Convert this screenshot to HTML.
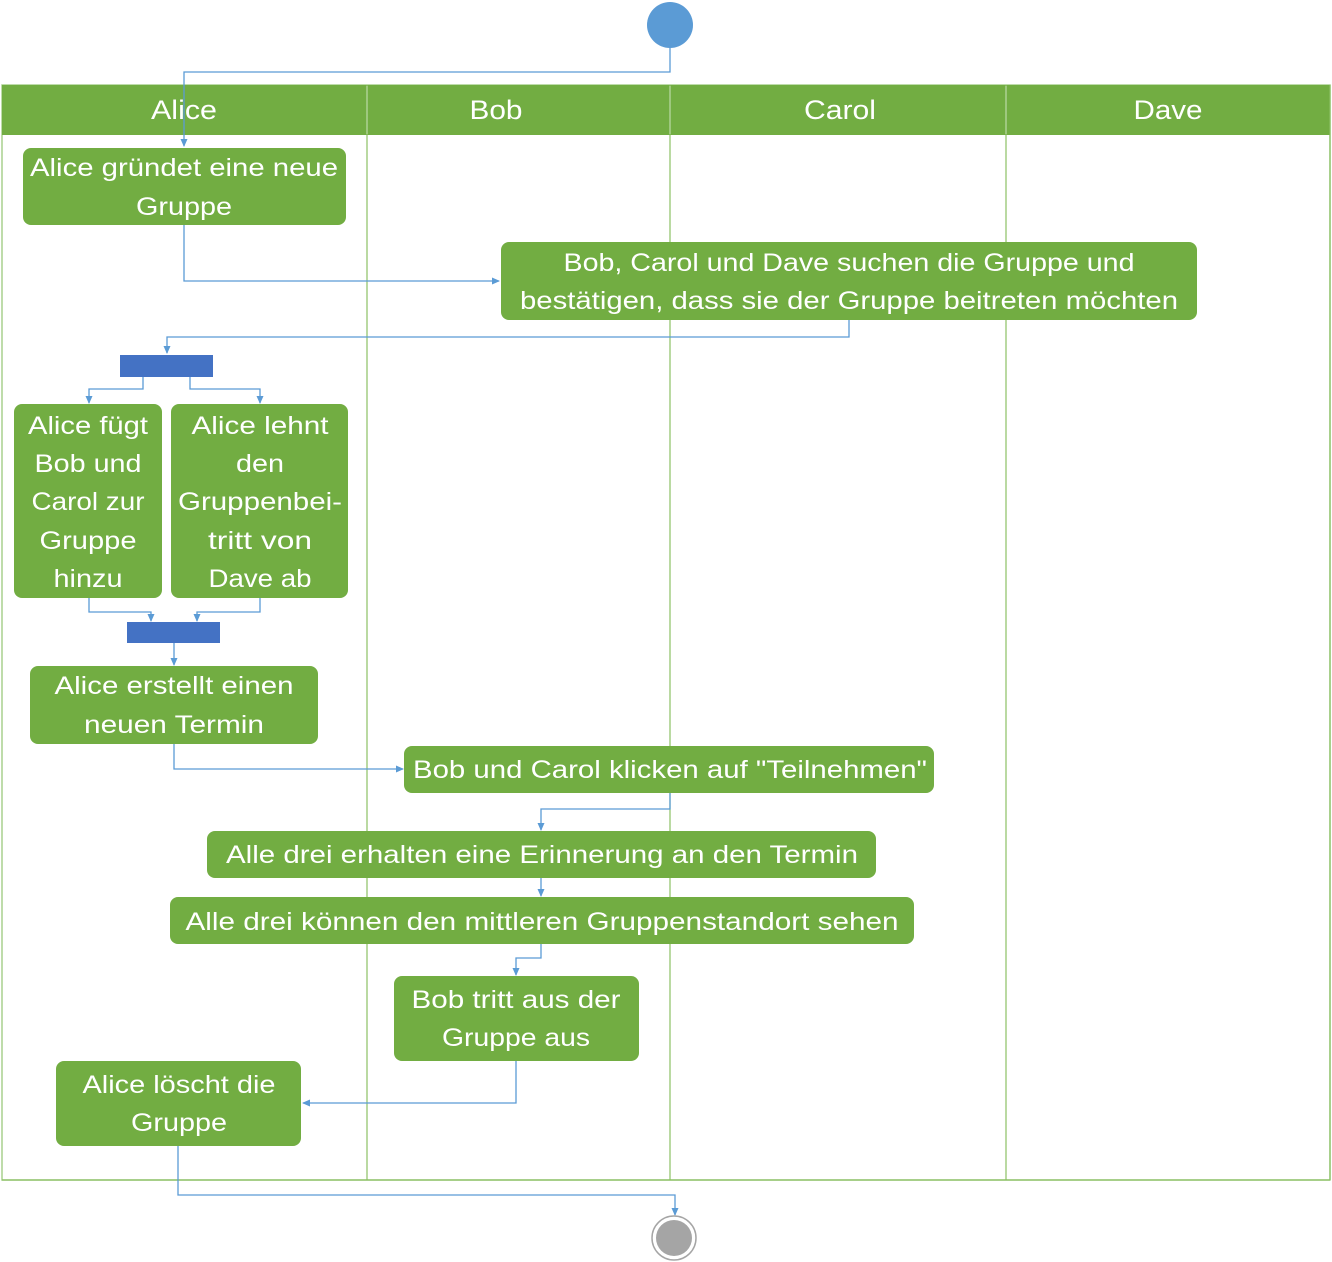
<!DOCTYPE html>
<html><head><meta charset="utf-8"><style>
html,body{margin:0;padding:0;background:#fff;}
svg{display:block;}
text{font-family:"Liberation Sans",sans-serif;fill:#fff;font-size:25px;}
.h{font-size:27px;}
.c{stroke:#5B9BD5;stroke-width:1.3;fill:none;}
.b{fill:#72AD42;}
</style></head><body>
<svg width="1332" height="1262" viewBox="0 0 1332 1262" xmlns="http://www.w3.org/2000/svg">
<defs><marker id="a" markerWidth="8" markerHeight="8" refX="7" refY="4" orient="auto" markerUnits="userSpaceOnUse"><path d="M0,0.5 L8,4 L0,7.5z" fill="#5B9BD5"/></marker></defs>
<rect x="2" y="85" width="1328" height="1095" fill="none" stroke="#A9D18E" stroke-width="1.5"/>
<rect x="2" y="85" width="1328" height="50" fill="#72AD42"/>
<g stroke="#8CC065" stroke-width="1.2">
<line x1="367" y1="85" x2="367" y2="1180"/><line x1="670" y1="85" x2="670" y2="1180"/><line x1="1006" y1="85" x2="1006" y2="1180"/>
<line x1="1330" y1="85" x2="1330" y2="1180"/><line x1="2" y1="1180" x2="1330" y2="1180"/>
</g>
<g stroke="#C5E0B4" stroke-width="1"><line x1="367" y1="86" x2="367" y2="134"/><line x1="670" y1="86" x2="670" y2="134"/><line x1="1006" y1="86" x2="1006" y2="134"/></g>
<text class="h" x="184" y="119" text-anchor="middle" textLength="66" lengthAdjust="spacingAndGlyphs">Alice</text>
<text class="h" x="496" y="119" text-anchor="middle" textLength="53" lengthAdjust="spacingAndGlyphs">Bob</text>
<text class="h" x="840" y="119" text-anchor="middle" textLength="72" lengthAdjust="spacingAndGlyphs">Carol</text>
<text class="h" x="1168" y="119" text-anchor="middle" textLength="69" lengthAdjust="spacingAndGlyphs">Dave</text>
<circle cx="670" cy="25" r="23" fill="#5B9BD5"/>
<path class="c" d="M670,48 V72 H184 V146" marker-end="url(#a)"/>
<path class="c" d="M184,225 V281 H499" marker-end="url(#a)"/>
<path class="c" d="M849,320 V337 H167 V353" marker-end="url(#a)"/>
<path class="c" d="M143,377 V389 H89 V403" marker-end="url(#a)"/>
<path class="c" d="M190,377 V389 H260 V403" marker-end="url(#a)"/>
<path class="c" d="M89,598 V612 H151 V621" marker-end="url(#a)"/>
<path class="c" d="M260,598 V612 H197 V621" marker-end="url(#a)"/>
<path class="c" d="M174,643 V665" marker-end="url(#a)"/>
<path class="c" d="M174,744 V769 H403" marker-end="url(#a)"/>
<path class="c" d="M670,793 V809 H541 V830" marker-end="url(#a)"/>
<path class="c" d="M541,878 V896" marker-end="url(#a)"/>
<path class="c" d="M541,944 V958 H516 V975" marker-end="url(#a)"/>
<path class="c" d="M516,1061 V1103 H303" marker-end="url(#a)"/>
<path class="c" d="M178,1146 V1195 H675 V1215" marker-end="url(#a)"/>
<rect x="120" y="355" width="93" height="22" fill="#4472C4"/>
<rect x="127" y="622" width="93" height="21" fill="#4472C4"/>
<rect class="b" x="23" y="148" width="323" height="77" rx="8"/>
<text x="184" y="176" text-anchor="middle" textLength="308" lengthAdjust="spacingAndGlyphs">Alice gründet eine neue</text>
<text x="184" y="215" text-anchor="middle" textLength="96" lengthAdjust="spacingAndGlyphs">Gruppe</text>
<rect class="b" x="501" y="242" width="696" height="78" rx="8"/>
<text x="849" y="271" text-anchor="middle" textLength="571" lengthAdjust="spacingAndGlyphs">Bob, Carol und Dave suchen die Gruppe und</text>
<text x="849" y="309" text-anchor="middle" textLength="658" lengthAdjust="spacingAndGlyphs">bestätigen, dass sie der Gruppe beitreten möchten</text>
<rect class="b" x="14" y="404" width="148" height="194" rx="8"/>
<text x="88" y="434" text-anchor="middle" textLength="120" lengthAdjust="spacingAndGlyphs">Alice fügt</text>
<text x="88" y="472" text-anchor="middle" textLength="107" lengthAdjust="spacingAndGlyphs">Bob und</text>
<text x="88" y="510" text-anchor="middle" textLength="113" lengthAdjust="spacingAndGlyphs">Carol zur</text>
<text x="88" y="549" text-anchor="middle" textLength="97" lengthAdjust="spacingAndGlyphs">Gruppe</text>
<text x="88" y="587" text-anchor="middle" textLength="69" lengthAdjust="spacingAndGlyphs">hinzu</text>
<rect class="b" x="171" y="404" width="177" height="194" rx="8"/>
<text x="260" y="434" text-anchor="middle" textLength="137" lengthAdjust="spacingAndGlyphs">Alice lehnt</text>
<text x="260" y="472" text-anchor="middle" textLength="48" lengthAdjust="spacingAndGlyphs">den</text>
<text x="260" y="510" text-anchor="middle" textLength="164" lengthAdjust="spacingAndGlyphs">Gruppenbei-</text>
<text x="260" y="549" text-anchor="middle" textLength="104" lengthAdjust="spacingAndGlyphs">tritt von</text>
<text x="260" y="587" text-anchor="middle" textLength="103" lengthAdjust="spacingAndGlyphs">Dave ab</text>
<rect class="b" x="30" y="666" width="288" height="78" rx="8"/>
<text x="174" y="694" text-anchor="middle" textLength="239" lengthAdjust="spacingAndGlyphs">Alice erstellt einen</text>
<text x="174" y="733" text-anchor="middle" textLength="180" lengthAdjust="spacingAndGlyphs">neuen Termin</text>
<rect class="b" x="404" y="746" width="530" height="47" rx="8"/>
<text x="670" y="778" text-anchor="middle" textLength="514" lengthAdjust="spacingAndGlyphs">Bob und Carol klicken auf "Teilnehmen"</text>
<rect class="b" x="207" y="831" width="669" height="47" rx="8"/>
<text x="542" y="863" text-anchor="middle" textLength="632" lengthAdjust="spacingAndGlyphs">Alle drei erhalten eine Erinnerung an den Termin</text>
<rect class="b" x="170" y="897" width="744" height="47" rx="8"/>
<text x="542" y="930" text-anchor="middle" textLength="713" lengthAdjust="spacingAndGlyphs">Alle drei können den mittleren Gruppenstandort sehen</text>
<rect class="b" x="394" y="976" width="245" height="85" rx="8"/>
<text x="516" y="1008" text-anchor="middle" textLength="209" lengthAdjust="spacingAndGlyphs">Bob tritt aus der</text>
<text x="516" y="1046" text-anchor="middle" textLength="148" lengthAdjust="spacingAndGlyphs">Gruppe aus</text>
<rect class="b" x="56" y="1061" width="245" height="85" rx="8"/>
<text x="179" y="1093" text-anchor="middle" textLength="193" lengthAdjust="spacingAndGlyphs">Alice löscht die</text>
<text x="179" y="1131" text-anchor="middle" textLength="96" lengthAdjust="spacingAndGlyphs">Gruppe</text>
<circle cx="674" cy="1238" r="22" fill="#fff" stroke="#A5A5A5" stroke-width="1.5"/>
<circle cx="674" cy="1238" r="18" fill="#A5A5A5"/>
</svg>
</body></html>
